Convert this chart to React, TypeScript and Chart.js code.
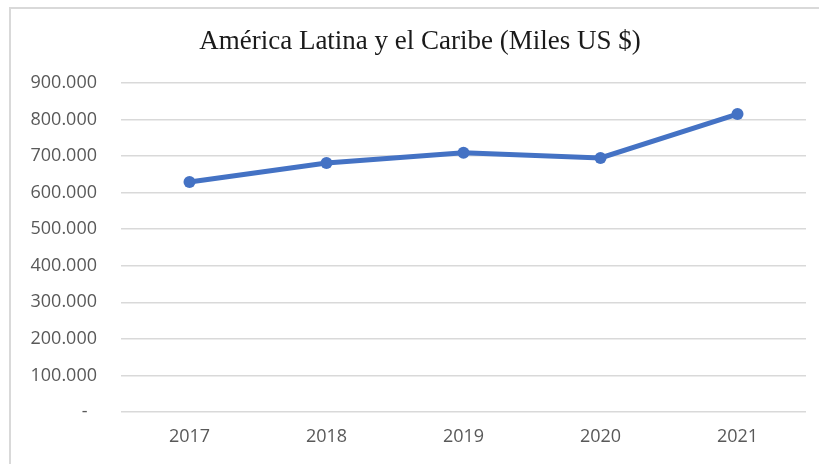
import React, { useEffect, useRef } from "react";
import { Chart, registerables } from "chart.js";

Chart.register(...registerables);

const TITLE = "América Latina y el Caribe (Miles US $)";
const YEARS = ["2017", "2018", "2019", "2020", "2021"];
const VALUES = [629000, 681000, 709000, 695000, 815000];
const Y_MIN = 0;
const Y_MAX = 900000;
const Y_STEP = 100000;

function fmt(v: number): string {
  if (v === 0) return "-  ";
  const s = Math.round(v).toString();
  return s.replace(/\B(?=(\d{3})+(?!\d))/g, ".");
}

const titlePlugin = {
  id: "centeredTitle",
  afterDraw(chart: any) {
    const ctx = chart.ctx;
    ctx.save();
    ctx.font = "27px 'Liberation Serif', 'Times New Roman', serif";
    ctx.fillStyle = "#1a1a1a";
    ctx.textAlign = "center";
    ctx.textBaseline = "alphabetic";
    ctx.fillText(TITLE, 420, 49);
    ctx.restore();
  },
};

export default function App() {
  const ref = useRef<HTMLCanvasElement | null>(null);
  useEffect(() => {
    document.body.style.margin = "0";
    const canvas = ref.current;
    if (!canvas) return;
    const chart = new Chart(canvas, {
      type: "line",
      data: {
        labels: YEARS,
        datasets: [
          {
            data: VALUES,
            borderColor: "#4472C4",
            backgroundColor: "#4472C4",
            borderWidth: 5,
            pointRadius: 6,
            pointBorderWidth: 0,
            pointBackgroundColor: "#4472C4",
            tension: 0,
          },
        ],
      },
      options: {
        responsive: false,
        animation: false,
        layout: { padding: { left: 0, right: 13, top: 83, bottom: 0 } },
        plugins: {
          legend: { display: false },
          tooltip: { enabled: false },
          title: { display: false },
        },
        scales: {
          x: {
            offset: true,
            grid: { display: false, drawTicks: false },
            border: { display: false },
            ticks: {
              color: "#595959",
              font: { family: "'Open Sans', sans-serif", size: 18 },
              padding: 14,
            },
            afterFit: (s: any) => {
              s.height = 52;
            },
          },
          y: {
            min: Y_MIN,
            max: Y_MAX,
            grid: { color: "#d9d9d9", lineWidth: 1.5, drawTicks: false },
            border: { display: false },
            ticks: {
              stepSize: Y_STEP,
              color: "#595959",
              font: { family: "'Open Sans', sans-serif", size: 18 },
              padding: 24,
              callback: (v: any) => fmt(Number(v)),
            },
            afterFit: (s: any) => {
              s.width = 121;
            },
          },
        },
      },
      plugins: [titlePlugin],
    });
    return () => chart.destroy();
  }, []);
  return (
    <div style={{ position: "relative", width: 819, height: 464, background: "#fff", overflow: "hidden" }}>
      <div
        style={{
          position: "absolute",
          left: 9,
          top: 7,
          width: 830,
          height: 480,
          border: "2px solid #d9d9d9",
          boxSizing: "border-box",
        }}
      />
      <canvas ref={ref} width={819} height={464} style={{ position: "absolute", left: 0, top: 0 }} />
    </div>
  );
}
